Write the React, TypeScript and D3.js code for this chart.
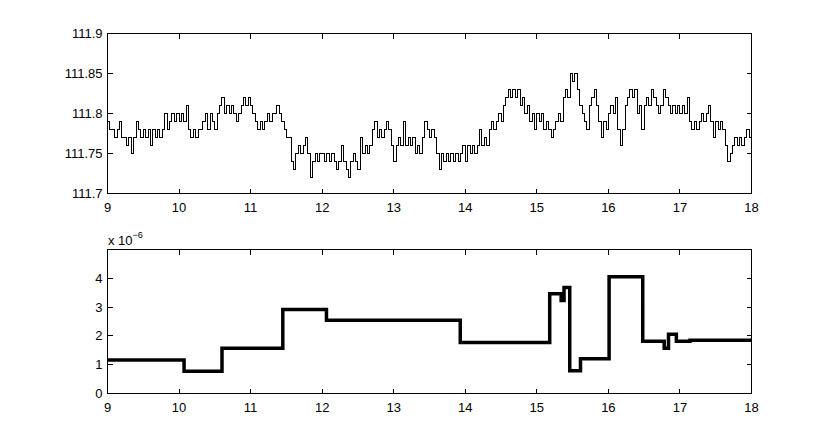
import React from 'react';
import * as d3 from 'd3';

// price level in cents above 111.70, one sample every 2 minutes, one array per hour
const h09 = [9, 8, 8, 7, 8, 9, 7, 7, 6, 7, 5, 7, 9, 8, 7, 8, 7, 8, 6, 8, 7, 8, 7, 8, 10, 8, 9, 10, 9, 10];
const h10 = [9, 10, 9, 11, 8, 7, 8, 7, 8, 8, 9, 10, 8, 10, 9, 8, 10, 11, 12, 10, 11, 10, 11, 10, 9, 10, 11, 12, 11, 12];
const h11 = [11, 10, 9, 8, 9, 8, 9, 10, 9, 10, 10, 11, 10, 9, 8, 7, 7, 4, 3, 5, 6, 5, 6, 7, 5, 2, 4, 5, 4, 5];
const h12 = [5, 4, 5, 4, 5, 4, 3, 4, 6, 4, 3, 2, 4, 5, 4, 3, 7, 5, 6, 5, 6, 8, 9, 7, 8, 7, 8, 9, 8, 6];
const h13 = [4, 6, 7, 6, 9, 6, 7, 6, 7, 5, 6, 5, 7, 9, 8, 7, 8, 7, 5, 3, 5, 4, 5, 4, 5, 4, 5, 4, 5, 6];
const h14 = [4, 6, 5, 6, 5, 6, 8, 6, 7, 6, 8, 9, 8, 9, 10, 9, 11, 12, 13, 12, 13, 12, 13, 11, 12, 10, 11, 9, 10, 8];
const h15 = [10, 9, 10, 8, 9, 8, 7, 8, 9, 10, 9, 12, 13, 12, 15, 14, 15, 13, 11, 10, 9, 8, 11, 12, 13, 11, 9, 7, 9, 8];
const h16 = [10, 11, 10, 12, 8, 6, 8, 11, 12, 13, 12, 13, 10, 11, 8, 11, 12, 11, 13, 12, 11, 10, 11, 13, 12, 11, 10, 11, 10, 11];
const h17 = [10, 11, 10, 12, 9, 8, 9, 8, 9, 10, 9, 10, 11, 9, 7, 9, 8, 9, 8, 6, 4, 5, 6, 7, 6, 7, 6, 7, 8, 7];
const closeLevel = 7;

// second panel: step values (x 1e-6) starting at each time
const rateTimes = [9, 10.07, 10.6, 11.45, 12.06, 13.93, 15.18, 15.34, 15.38, 15.46, 15.61, 16.01, 16.48, 16.78, 16.84, 16.95, 17.14, 18];
const rateValues = [1.16, 0.77, 1.57, 2.92, 2.54, 1.77, 3.46, 3.23, 3.68, 0.79, 1.21, 4.05, 1.81, 1.57, 2.06, 1.81, 1.85, 1.85];

const xTicks = [9, 10, 11, 12, 13, 14, 15, 16, 17, 18];
const priceTicks = [111.7, 111.75, 111.8, 111.85, 111.9];
const rateTicks = [0, 1, 2, 3, 4];

const FONT = "'Liberation Sans', Arial, Helvetica, sans-serif";
const TICK = 5;

function Axes({ x, y, xt, yt, yfmt }) {
  const [x0, x1] = x.range();
  const [y0, y1] = y.range();
  return (
    <g>
      <rect x={x0} y={y1} width={x1 - x0} height={y0 - y1} fill="none" stroke="#000" strokeWidth={1} shapeRendering="crispEdges" />
      {xt.map(t => (
        <g key={'x' + t}>
          <line x1={x(t)} x2={x(t)} y1={y0} y2={y0 - TICK} stroke="#000" shapeRendering="crispEdges" />
          <line x1={x(t)} x2={x(t)} y1={y1} y2={y1 + TICK} stroke="#000" shapeRendering="crispEdges" />
          <text x={x(t)} y={y0 + 18} textAnchor="middle" fontSize={13} fontFamily={FONT}>{t}</text>
        </g>
      ))}
      {yt.map(t => (
        <g key={'y' + t}>
          <line x1={x0} x2={x0 + TICK} y1={y(t)} y2={y(t)} stroke="#000" shapeRendering="crispEdges" />
          <line x1={x1} x2={x1 - TICK} y1={y(t)} y2={y(t)} stroke="#000" shapeRendering="crispEdges" />
          <text x={x0 - 5} y={y(t) + 4.5} textAnchor="end" fontSize={13} fontFamily={FONT}>{yfmt(t)}</text>
        </g>
      ))}
    </g>
  );
}

export default function App() {
  const W = 830, H = 448;
  const x1 = d3.scaleLinear().domain([9, 18]).range([107.5, 751.5]);
  const yTop = d3.scaleLinear().domain([111.7, 111.9]).range([193.5, 33.5]);
  const yBot = d3.scaleLinear().domain([0, 5]).range([393.5, 249.5]);

  const levels = [...h09, ...h10, ...h11, ...h12, ...h13, ...h14, ...h15, ...h16, ...h17, closeLevel];
  const prices = levels.map((c, i) => ({ t: 9 + i / 30, v: 111.7 + c / 100 }));

  const priceLine = d3.line<any>()
    .x(d => x1(d.t))
    .y(d => yTop(d.v))
    .curve(d3.curveStepAfter);

  const rateLine = d3.line<number>()
    .x((d, i) => x1(rateTimes[i]))
    .y(d => yBot(d))
    .curve(d3.curveStepAfter);

  return (
    <svg width={W} height={H} style={{ position: 'absolute', left: 0, top: 0, background: '#fff' }}>
      <style>{'body{margin:0}'}</style>
      <rect width={W} height={H} fill="#fff" />
      <path d={priceLine(prices) || ''} fill="none" stroke="#000" strokeWidth={1} shapeRendering="crispEdges" />
      <Axes x={x1} y={yTop} xt={xTicks} yt={priceTicks} yfmt={d => String(+d.toFixed(2))} />

      <path d={rateLine(rateValues) || ''} fill="none" stroke="#000" strokeWidth={3.5} strokeLinejoin="miter" />
      <Axes x={x1} y={yBot} xt={xTicks} yt={rateTicks} yfmt={d => String(d)} />
      <text x={108} y={244.5} fontSize={13} fontFamily={FONT}>
        x 10<tspan fontSize={9} dy={-7}>−6</tspan>
      </text>
    </svg>
  );
}
